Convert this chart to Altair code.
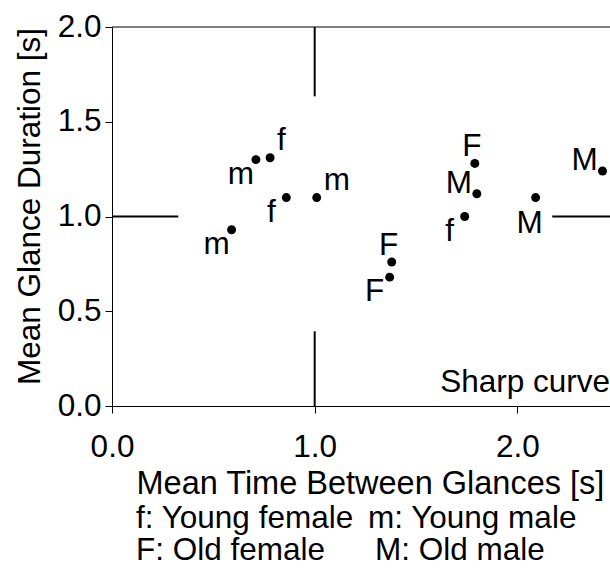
import altair as alt
import pandas as pd

# ---- data ----
x_time = [0.59, 0.71, 0.78, 0.86, 1.01, 1.79, 1.80, 1.74, 2.09, 2.42, 1.38, 1.37]
y_dur = [0.93, 1.30, 1.31, 1.10, 1.10, 1.28, 1.12, 1.00, 1.10, 1.24, 0.76, 0.68]
group = ["m", "m", "f", "f", "m", "F", "M", "f", "M", "M", "F", "F"]
label_side = ["bl", "bl", "tr", "bl", "tr", "t", "tl", "bl", "b", "tl", "t", "bl"]

seg_x = [1.0, 1.0, 0.0, 2.172]
seg_x2 = [1.0, 1.0, 0.327, 2.457]
seg_y = [1.634, 0.0, 1.0, 1.0]
seg_y2 = [2.0, 0.394, 1.0, 1.0]

x_ticks = [0.0, 1.0, 2.0]
y_ticks = [0.0, 0.5, 1.0, 1.5, 2.0]
x_domain = [0.0, 2.457]
y_domain = [0.0, 2.0]

legend_keys = ["f", "m", "F", "M"]
legend_names = ["Young female", "Young male", "Old female", "Old male"]
note_text = "Sharp curve"

# ---- layout / style ----
FONT = "Liberation Sans"
FS = 31.5
FS_XTITLE = 32.5
FS_LEGEND = 31.5
W, H = 498, 379

pts = pd.DataFrame({"t": x_time, "d": y_dur, "g": group, "side": label_side})
segs = pd.DataFrame({"t": seg_x, "t2": seg_x2, "d": seg_y, "d2": seg_y2})
one = pd.DataFrame({"k": [0]})

X = alt.X(
    "t:Q",
    scale=alt.Scale(domain=x_domain, nice=False, zero=False),
    axis=alt.Axis(
        values=x_ticks, format=".1f", title="Mean Time Between Glances [s]",
        labelPadding=18, tickSize=7, labelFlush=False, labelOverlap=False,
        titleAlign="left", titleAnchor="start", titleX=24, titleY=87,
        titleBaseline="alphabetic", titleFontSize=FS_XTITLE,
    ),
)
Y = alt.Y(
    "d:Q",
    scale=alt.Scale(domain=y_domain, nice=False, zero=False),
    axis=alt.Axis(
        values=y_ticks, format=".1f", title="Mean Glance Duration [s]",
        labelPadding=4, tickSize=7, labelFlush=False, labelOverlap=False,
        titleAngle=270, titleAlign="center", titleX=-73, titleY=179,
        titleBaseline="alphabetic",
    ),
)

rules = alt.Chart(segs).mark_rule(color="black", strokeWidth=2).encode(
    x=X, x2="t2:Q", y=Y, y2="d2:Q"
)

frame_top = alt.Chart(one).mark_rule(color="black", strokeWidth=1).encode(
    x=alt.value(0), x2=alt.value(W), y=alt.value(0)
)

points = alt.Chart(pts).mark_circle(size=80, color="black", opacity=1).encode(x=X, y=Y)

offsets = {
    "bl": dict(dx=-15, dy=15, align="center"),
    "tr": dict(dx=7, dy=-17, align="left"),
    "t": dict(dx=-3, dy=-16, align="center"),
    "tl": dict(dx=-18, dy=-10, align="center"),
    "b": dict(dx=-6, dy=26, align="center"),
}
label_layers = []
for side, o in offsets.items():
    label_layers.append(
        alt.Chart(pts)
        .transform_filter(alt.datum.side == side)
        .mark_text(font=FONT, fontSize=FS, color="black", baseline="middle", **o)
        .encode(x=X, y=Y, text="g:N")
    )

note = alt.Chart(one).mark_text(
    text=note_text, font=FONT, fontSize=FS, color="black",
    align="right", baseline="alphabetic"
).encode(x=alt.value(W), y=alt.value(365))

legend_pos = {"f": (24, 501), "m": (256, 501), "F": (24, 533), "M": (263, 533)}
legend_layers = []
for k, n in zip(legend_keys, legend_names):
    px, py = legend_pos[k]
    legend_layers.append(
        alt.Chart(one).mark_text(
            text=f"{k}: {n}", font=FONT, fontSize=FS_LEGEND, color="black",
            align="left", baseline="alphabetic"
        ).encode(x=alt.value(px), y=alt.value(py))
    )

chart = (
    alt.layer(rules, frame_top, points, *label_layers, note, *legend_layers)
    .properties(
        width=W, height=H,
        background="white",
        autosize=alt.AutoSizeParams(type="none"),
        padding={"left": 112, "top": 27, "right": 0, "bottom": 166},
    )
    .configure_view(stroke=None)
    .configure_axis(
        grid=False, domainColor="black", tickColor="black", domainWidth=1,
        labelFont=FONT, labelFontSize=FS, labelColor="black",
        titleFont=FONT, titleFontSize=FS, titleColor="black", titleFontWeight="normal",
    )
)

chart.save("out.html", embed_options={"renderer": "svg", "actions": False})
